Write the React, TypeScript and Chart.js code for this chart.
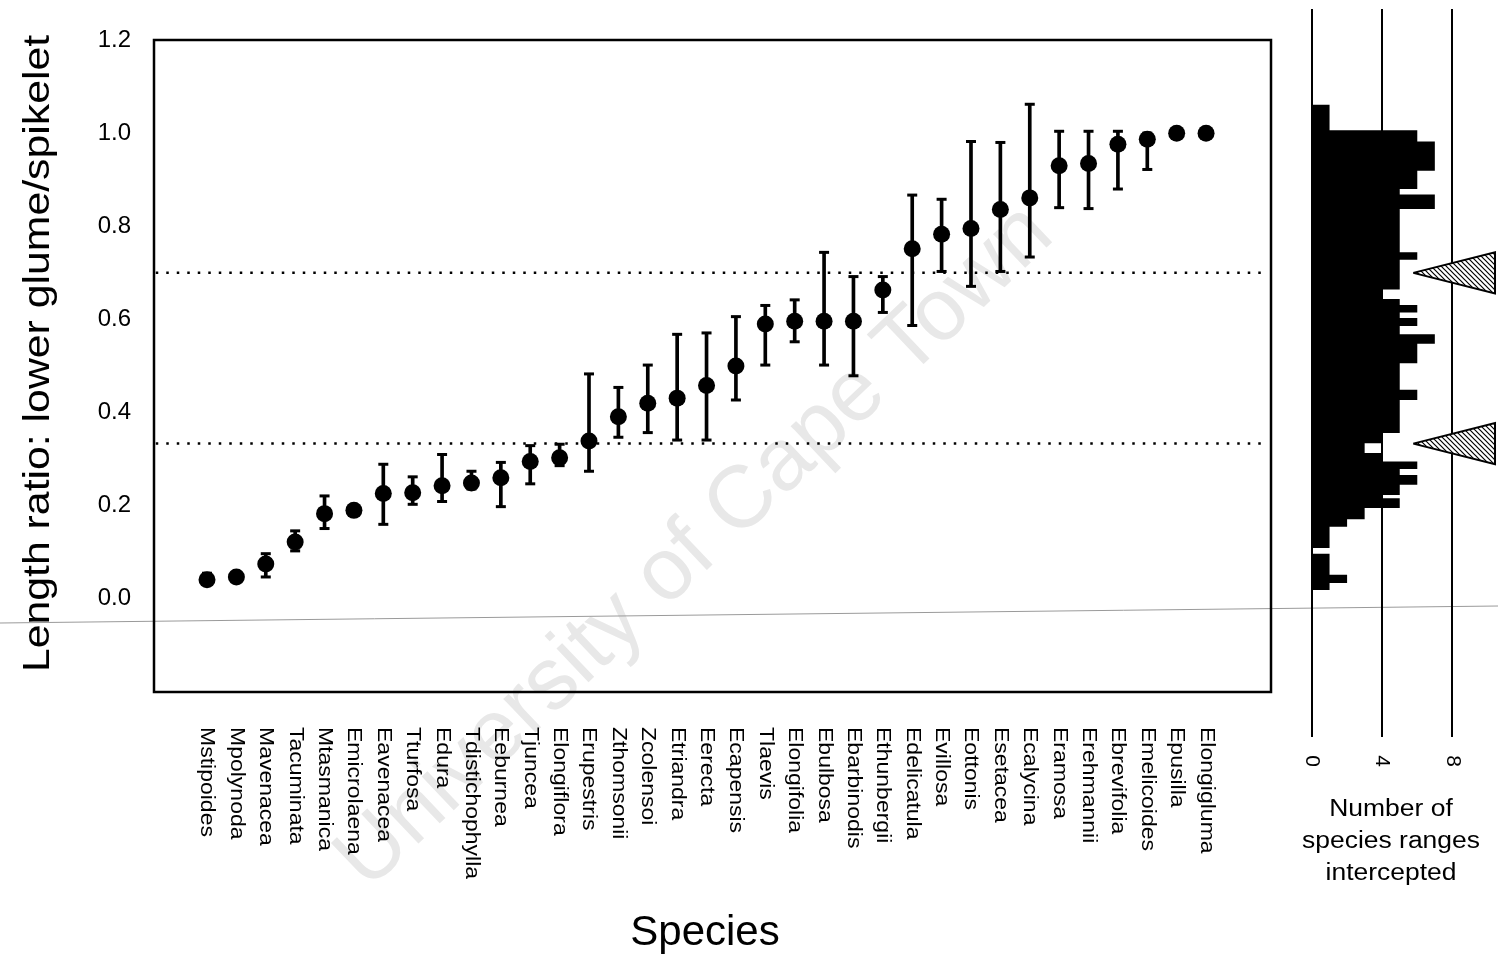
import React, { useEffect, useRef } from 'react';
import { Chart, registerables } from 'chart.js';

Chart.register(...registerables);

// ---------- data ----------
const species = [
  'Mstipoides', 'Mpolynoda', 'Mavenacea', 'Tacuminata', 'Mtasmanica', 'Emicrolaena', 'Eavenacea',
  'Tturfosa', 'Edura', 'Tdistichophylla', 'Eeburnea', 'Tjuncea', 'Elongiflora', 'Erupestris',
  'Zthomsonii', 'Zcolensoi', 'Etriandra', 'Eerecta', 'Ecapensis', 'Tlaevis', 'Elongifolia',
  'Ebulbosa', 'Ebarbinodis', 'Ethunbergii', 'Edelicatula', 'Evillosa', 'Eottonis', 'Esetacea',
  'Ecalycina', 'Eramosa', 'Erehmannii', 'Ebrevifolia', 'Emelicoides', 'Epusilla', 'Elongigluma',
];

const ratioMeans = [
  0.041, 0.047, 0.075, 0.122, 0.183, 0.19, 0.226, 0.228, 0.243, 0.249, 0.26, 0.295, 0.303, 0.339,
  0.391, 0.42, 0.431, 0.458, 0.5, 0.59, 0.596, 0.596, 0.596, 0.663, 0.752, 0.783, 0.795, 0.836,
  0.861, 0.93, 0.935, 0.976, 0.987, 1.0, 1.0,
];

const ratioLows = [
  0.041, 0.047, 0.047, 0.103, 0.151, 0.19, 0.16, 0.203, 0.209, 0.236, 0.198, 0.247, 0.286, 0.274,
  0.347, 0.357, 0.341, 0.341, 0.427, 0.502, 0.552, 0.502, 0.479, 0.615, 0.587, 0.703, 0.671, 0.703,
  0.734, 0.84, 0.838, 0.88, 0.922, 1.0, 1.0,
];

const ratioHighs = [
  0.055, 0.047, 0.097, 0.146, 0.221, 0.19, 0.289, 0.262, 0.31, 0.274, 0.293, 0.329, 0.332, 0.483,
  0.454, 0.502, 0.568, 0.571, 0.606, 0.63, 0.642, 0.744, 0.692, 0.692, 0.867, 0.858, 0.982, 0.98,
  1.062, 1.004, 1.004, 1.004, 1.0, 1.0, 1.0,
];

const yTicks = [0, 0.2, 0.4, 0.6, 0.8, 1.0, 1.2];
const thresholds = [1 / 3, 0.7];

// histogram of species ranges intercepted (bin edges, top to bottom, and counts)
const histEdges = [
  1.061, 1.006, 0.982, 0.919, 0.88, 0.868, 0.837, 0.744, 0.728, 0.664, 0.644, 0.631, 0.615, 0.603,
  0.586, 0.568, 0.548, 0.506, 0.449, 0.427, 0.356, 0.334, 0.313, 0.295, 0.279, 0.266, 0.245, 0.223,
  0.216, 0.195, 0.171, 0.155, 0.109, 0.097, 0.052, 0.034, 0.019,
];
const histCounts = [
  1, 6, 7, 6, 5, 7, 5, 6, 5, 4, 5, 6, 5, 6, 5, 7, 6, 5, 6, 5, 4, 3, 4, 6, 5, 6, 5, 4, 5, 3, 2, 1, 0,
  1, 2, 1,
];
const histTicks = [0, 4, 8];

const xTitle = 'Species';
const yTitle = 'Length ratio: lower glume/spikelet';
const histTitle = ['Number of', 'species ranges', 'intercepted'];
const watermark = 'University of Cape Town';

// ---------- layout constants ----------
const W = 1498;
const H = 955;
const FONT = "'Liberation Sans', Arial, Helvetica, sans-serif";
const X_MIN = -1.804;
const X_MAX = 36.21;
const Y_MIN = -0.2;
const Y_MAX = 1.2;
const AREA = { left: 154, right: 1271, top: 40, bottom: 692 };
const PX_PER_UNIT = (AREA.bottom - AREA.top) / (Y_MAX - Y_MIN);
const ZERO_PX = AREA.bottom + Y_MIN * PX_PER_UNIT;
const HIST_LEFT = 1290;
const HIST_TOP = 9;
const HIST_BOTTOM = 737;
const HY_MAX = (ZERO_PX - HIST_TOP) / PX_PER_UNIT;
const HY_MIN = (ZERO_PX - HIST_BOTTOM) / PX_PER_UNIT;
const HX_MAX = 10.6;
const TRI_TIP = 5.77;
const TRI_BASE = 10.43;
const TRI_HALF = 0.044;

const mainDecor = {
  id: 'mainDecor',
  beforeDraw(chart: any) {
    const { ctx } = chart;
    ctx.save();
    ctx.translate(712, 565);
    ctx.rotate((-43.5 * Math.PI) / 180);
    ctx.font = `88px ${FONT}`;
    ctx.fillStyle = '#e8e8e8';
    ctx.textAlign = 'center';
    ctx.textBaseline = 'alphabetic';
    ctx.fillText(watermark, 0, 0);
    ctx.restore();

    ctx.save();
    ctx.strokeStyle = '#9a9a9a';
    ctx.lineWidth = 1;
    ctx.beginPath();
    ctx.moveTo(0, 623);
    ctx.lineTo(W, 606);
    ctx.stroke();
    ctx.restore();
  },
  afterDraw(chart: any) {
    const { ctx, chartArea: a, scales } = chart;
    ctx.save();
    ctx.strokeStyle = '#000';
    ctx.lineWidth = 2.5;
    ctx.strokeRect(a.left, a.top, a.right - a.left, a.bottom - a.top);

    ctx.fillStyle = '#000';
    ctx.font = `20px ${FONT}`;
    ctx.textAlign = 'left';
    ctx.textBaseline = 'middle';
    species.forEach((s, i) => {
      const x = scales.x.getPixelForValue(i);
      ctx.save();
      ctx.translate(x, 727);
      ctx.rotate(Math.PI / 2);
      ctx.scale(1.15, 1);
      ctx.fillText(s, 0, 0);
      ctx.restore();
    });

    ctx.font = `42px ${FONT}`;
    ctx.textAlign = 'center';
    ctx.textBaseline = 'alphabetic';
    ctx.fillText(xTitle, 705, 945);

    ctx.save();
    ctx.translate(49, 353.5);
    ctx.rotate(-Math.PI / 2);
    ctx.scale(1.156, 1);
    ctx.font = `37px ${FONT}`;
    ctx.textAlign = 'center';
    ctx.textBaseline = 'alphabetic';
    ctx.fillText(yTitle, 0, 0);
    ctx.restore();

    ctx.restore();
  },
};

const histDecor = {
  id: 'histDecor',
  afterDraw(chart: any) {
    const { ctx, scales } = chart;
    ctx.save();
    ctx.fillStyle = '#000';
    ctx.font = `21px ${FONT}`;
    ctx.textAlign = 'center';
    ctx.textBaseline = 'middle';
    histTicks.forEach((t) => {
      const x = scales.x.getPixelForValue(t);
      ctx.save();
      ctx.translate(x, 761);
      ctx.rotate(Math.PI / 2);
      ctx.fillText(String(t), 0, 0);
      ctx.restore();
    });
    ctx.font = `23px ${FONT}`;
    ctx.textBaseline = 'alphabetic';
    histTitle.forEach((line, k) => {
      ctx.save();
      ctx.translate(1391 - HIST_LEFT, 816 + 32 * k);
      ctx.scale(1.15, 1);
      ctx.fillText(line, 0, 0);
      ctx.restore();
    });
    ctx.restore();
  },
};

export default function App() {
  const mainRef = useRef<HTMLCanvasElement | null>(null);
  const histRef = useRef<HTMLCanvasElement | null>(null);

  useEffect(() => {
    const mainCanvas = mainRef.current!;
    const histCanvas = histRef.current!;

    const meanPoints = ratioMeans.map((v, i) => ({ x: i, y: v }));
    const rangeBars = species.map((_, i) => ({ x: i, y: [ratioLows[i], ratioHighs[i]] }));
    const capPoints = species.flatMap((_, i) =>
      ratioHighs[i] > ratioLows[i]
        ? [
            { x: i, y: ratioLows[i] },
            { x: i, y: ratioHighs[i] },
          ]
        : []
    );

    const main = new Chart(mainCanvas, {
      type: 'scatter',
      data: {
        datasets: [
          {
            type: 'scatter',
            data: meanPoints,
            pointRadius: 8.5,
            pointBackgroundColor: '#000',
            pointBorderWidth: 0,
            order: 0,
          } as any,
          {
            type: 'scatter',
            data: capPoints,
            pointStyle: 'line',
            pointRadius: 5,
            pointBorderWidth: 3,
            pointBorderColor: '#000',
            order: 1,
          } as any,
          {
            type: 'bar',
            data: rangeBars,
            backgroundColor: '#000',
            barThickness: 3,
            order: 2,
          } as any,
          ...thresholds.map(
            (t) =>
              ({
                type: 'line',
                data: [
                  { x: X_MIN + 0.06, y: t },
                  { x: X_MAX - 0.2, y: t },
                ],
                borderColor: '#000',
                borderWidth: 2.5,
                borderDash: [2.5, 8],
                pointRadius: 0,
                fill: false,
                order: 3,
              } as any)
          ),
        ],
      },
      options: {
        animation: false,
        responsive: false,
        events: [],
        layout: { padding: { left: 0, top: AREA.top, right: W - AREA.right, bottom: H - AREA.bottom } },
        plugins: { legend: { display: false }, tooltip: { enabled: false } },
        scales: {
          x: {
            type: 'linear',
            min: X_MIN,
            max: X_MAX,
            offset: false,
            display: false,
            grid: { offset: false },
          },
          y: {
            type: 'linear',
            min: Y_MIN,
            max: Y_MAX,
            afterBuildTicks: (s: any) => {
              s.ticks = yTicks.map((v) => ({ value: v }));
            },
            afterFit: (s: any) => {
              s.width = AREA.left;
            },
            ticks: {
              callback: (v: any) => Number(v).toFixed(1),
              color: '#000',
              font: { family: FONT, size: 24 },
              padding: 23,
            },
            grid: { display: false, drawTicks: false },
            border: { display: false },
          },
        },
      } as any,
      plugins: [mainDecor],
    });

    const pc = document.createElement('canvas');
    pc.width = 5;
    pc.height = 5;
    const g = pc.getContext('2d')!;
    g.fillStyle = '#fff';
    g.fillRect(0, 0, 5, 5);
    g.strokeStyle = '#000';
    g.lineWidth = 1.2;
    g.beginPath();
    g.moveTo(-1, -1);
    g.lineTo(6, 6);
    g.moveTo(4, -1);
    g.lineTo(6, 1);
    g.moveTo(-1, 4);
    g.lineTo(1, 6);
    g.stroke();
    const pattern = histCanvas.getContext('2d')!.createPattern(pc, 'repeat');

    const histPoly: { x: number; y: number }[] = [{ x: 0, y: histEdges[0] }];
    histCounts.forEach((c, i) => {
      histPoly.push({ x: c, y: histEdges[i] });
      histPoly.push({ x: c, y: histEdges[i + 1] });
    });
    histPoly.push({ x: 0, y: histEdges[histEdges.length - 1] });

    const hist = new Chart(histCanvas, {
      type: 'scatter',
      data: {
        datasets: [
          {
            type: 'line',
            data: histPoly,
            fill: 'shape',
            backgroundColor: '#000',
            borderColor: '#000',
            borderWidth: 0,
            pointRadius: 0,
            tension: 0,
          } as any,
          ...thresholds.map(
            (t) =>
              ({
                type: 'line',
                data: [
                  { x: TRI_TIP, y: t },
                  { x: TRI_BASE, y: t + TRI_HALF },
                  { x: TRI_BASE, y: t - TRI_HALF },
                  { x: TRI_TIP, y: t },
                ],
                fill: 'shape',
                backgroundColor: pattern,
                borderColor: '#000',
                borderWidth: 2,
                pointRadius: 0,
                tension: 0,
              } as any)
          ),
        ],
      },
      options: {
        animation: false,
        responsive: false,
        events: [],
        layout: { padding: { left: 1312 - HIST_LEFT, right: 0, top: HIST_TOP, bottom: H - HIST_BOTTOM } },
        plugins: { legend: { display: false }, tooltip: { enabled: false } },
        scales: {
          x: {
            type: 'linear',
            min: 0,
            max: HX_MAX,
            afterBuildTicks: (s: any) => {
              s.ticks = histTicks.map((v) => ({ value: v }));
            },
            afterFit: (s: any) => {
              s.height = 0;
            },
            ticks: { display: false },
            grid: { color: '#000', lineWidth: 2, drawTicks: false },
            border: { display: false },
          },
          y: { type: 'linear', min: HY_MIN, max: HY_MAX, display: false },
        },
      } as any,
      plugins: [histDecor],
    });

    return () => {
      main.destroy();
      hist.destroy();
    };
  }, []);

  return (
    <div style={{ position: 'absolute', left: 0, top: 0, width: W, height: H, background: '#fff' }}>
      <canvas
        ref={mainRef}
        width={W}
        height={H}
        style={{ position: 'absolute', left: 0, top: 0, display: 'block' }}
      />
      <canvas
        ref={histRef}
        width={W - HIST_LEFT}
        height={H}
        style={{ position: 'absolute', left: HIST_LEFT, top: 0, display: 'block' }}
      />
    </div>
  );
}
